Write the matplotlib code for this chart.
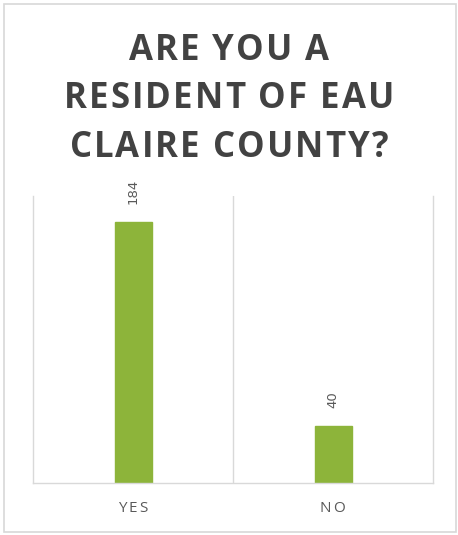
import matplotlib.pyplot as plt
from matplotlib.patches import Rectangle

categories = ["YES", "NO"]
counts = [184, 40]
title_lines = ["ARE YOU A", "RESIDENT OF EAU", "CLAIRE COUNTY?"]

bar_color = "#8db43a"
grid_color = "#d9d9d9"
text_color = "#595959"

fig = plt.figure(figsize=(4.58, 5.35), dpi=100)
W, H = 458, 535

# light frame around the whole chart
fig.patches.append(Rectangle((4 / W, 3 / H), 452 / W, 528 / H, transform=fig.transFigure,
                             fill=False, edgecolor="#d8d8d8", linewidth=1.2))

ax = fig.add_axes([33 / W, (H - 483) / H, 400 / W, 287 / H])
x = list(range(len(categories)))
bars = ax.bar(x, counts, width=0.185, color=bar_color, edgecolor=bar_color)

ax.set_xlim(-0.5, 1.5)
ax.set_ylim(0, 202)
for i in range(len(categories) - 1):
    ax.axvline(i + 0.5, color=grid_color, linewidth=1)

ax.spines["top"].set_visible(False)
for side in ["left", "right", "bottom"]:
    ax.spines[side].set_color(grid_color)
    ax.spines[side].set_linewidth(1)
ax.set_yticks([])
ax.set_xticks(x)
ax.set_xticklabels(["\u2009".join(c) for c in categories],
                   family=["Open Sans", "DejaVu Sans"], fontsize=11, color=text_color)
ax.tick_params(axis="x", length=0, pad=13)

for b, v in zip(bars, counts):
    ax.annotate(str(v), (b.get_x() + b.get_width() / 2, v), xytext=(0, 13),
                textcoords="offset points", rotation=90, ha="center", va="bottom",
                fontsize=9.5, color=text_color, family="DejaVu Sans")


def tracked_text(line, y_px, tracking=2.1, **kw):
    # draw a line char by char so the letters can be spread a little
    renderer = fig.canvas.get_renderer()
    widths = []
    for ch in line:
        t = fig.text(0, 0, ch.replace(" ", "\u00a0"), **kw)
        widths.append(t.get_window_extent(renderer).width)
        t.remove()
    total = sum(widths) + tracking * (len(line) - 1)
    xpos = (W - total) / 2
    for ch, w in zip(line, widths):
        if ch != " ":
            fig.text(xpos / W, (H - y_px) / H, ch, ha="left", va="baseline", **kw)
        xpos += w + tracking


baselines = [60, 108, 157]
for line, yb in zip(title_lines, baselines):
    tracked_text(line, yb, fontsize=25, fontweight="bold", color="#424242",
                 family="Open Sans")

fig.savefig("out.png", dpi=100)
